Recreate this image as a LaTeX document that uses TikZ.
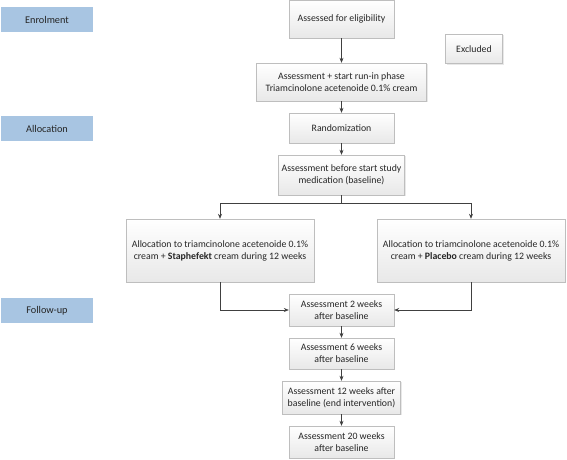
\documentclass[tikz,border=0pt]{standalone}
\usepackage{fontspec}
\setmainfont{Carlito}
\usetikzlibrary{shadows,arrows.meta}

\definecolor{phaseblue}{RGB}{168,197,226}
\definecolor{boxline}{RGB}{190,190,190}
\definecolor{arrowgray}{RGB}{64,64,64}

\begin{document}
\begin{tikzpicture}[x=1pt,y=-1pt,
    font=\fontsize{9.8}{12}\selectfont,text=black!85,
    phase/.style={fill=phaseblue,minimum width=92pt,minimum height=25pt,inner sep=0pt,font=\fontsize{10.3}{12}\selectfont},
    stepbox/.style={draw=boxline,top color=white,bottom color=black!9,align=center,inner sep=0pt,
        drop shadow={opacity=0.18,shadow xshift=1pt,shadow yshift=-1pt}},
    link/.style={draw=arrowgray,line width=0.6pt,-{Stealth[length=5pt,width=4pt]}}]

    \useasboundingbox (0,0) rectangle (567,460);

    % study phases
    \node[phase] (enrol) at (47,19.5) {Enrolment};
    \node[phase] (alloc) at (47,128.5) {Allocation};
    \node[phase] (follow) at (47,310.5) {Follow-up};

    % enrolment and run-in
    \node[stepbox,minimum width=105pt,minimum height=38pt] (elig) at (341.5,19) {Assessed for eligibility};
    \node[stepbox,minimum width=57pt,minimum height=29pt] (excl) at (474,49) {Excluded};
    \node[stepbox,minimum width=170pt,minimum height=38pt] (runin) at (341.5,82) {Assessment + start run-in phase\\Triamcinolone acetenoide 0.1\% cream};
    \node[stepbox,minimum width=105pt,minimum height=30pt] (rand) at (341.5,128) {Randomization};
    \node[stepbox,minimum width=126pt,minimum height=40pt] (base) at (341.5,175) {Assessment before start study\\medication (baseline)};

    % treatment arms
    \node[stepbox,minimum width=188pt,minimum height=63pt] (staph) at (220,250.5) {Allocation to triamcinolone acetenoide 0.1\%\\cream + \textbf{Staphefekt} cream during 12 weeks};
    \node[stepbox,minimum width=188pt,minimum height=63pt] (plac) at (471,250.5) {Allocation to triamcinolone acetenoide 0.1\%\\cream + \textbf{Placebo} cream during 12 weeks};

    % follow-up visits
    \node[stepbox,minimum width=105pt,minimum height=32pt] (wk2) at (341.5,310) {Assessment 2 weeks\\after baseline};
    \node[stepbox,minimum width=105pt,minimum height=31pt] (wk6) at (341.5,353.5) {Assessment 6 weeks\\after baseline};
    \node[stepbox,minimum width=118pt,minimum height=33pt] (wk12) at (341.5,397.5) {Assessment 12 weeks after\\baseline (end intervention)};
    \node[stepbox,minimum width=105pt,minimum height=32pt] (wk20) at (341.5,442) {Assessment 20 weeks\\after baseline};

    \coordinate (split) at ([yshift=-8pt]base.south);

    \draw[link] (elig) -- (runin);
    \draw[link] (runin) -- (rand);
    \draw[link] (rand) -- (base);
    \draw[draw=arrowgray,line width=0.6pt] (base.south) -- (split);
    \draw[link] (split) -| (staph.north);
    \draw[link] (split) -| (plac.north);
    \draw[link] (staph.south) |- (wk2.west);
    \draw[link] (plac.south) |- (wk2.east);
    \draw[link] (wk2) -- (wk6);
    \draw[link] (wk6) -- (wk12);
    \draw[link] (wk12) -- (wk20);
\end{tikzpicture}
\end{document}
